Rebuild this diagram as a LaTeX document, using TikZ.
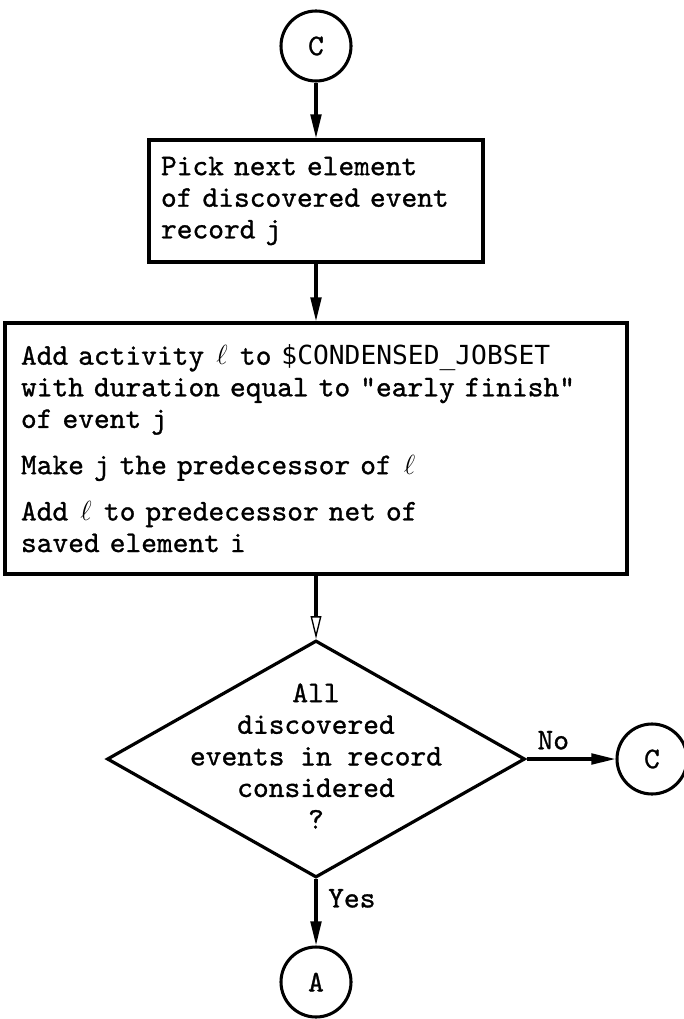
\documentclass[tikz,border=0pt]{standalone}
\usepackage{fontspec}
\newfontfamily\twfont[FakeBold=1]{lmmono10-regular.otf}
\newfontfamily\capfont{DejaVu Sans Mono}
\usetikzlibrary{shapes.geometric,arrows.meta}
\newcommand\ELL{\makebox[0.525em]{$\ell$}}
\newcommand\CAPS[1]{{\capfont\fontsize{19.7}{23.7}\selectfont #1}}
\begin{document}
\begin{tikzpicture}[x=0.75pt,y=-0.75pt,
  every node/.style={font=\twfont\fontsize{22.5}{23.7}\selectfont},
  procbox/.style={draw, line width=2.5pt, rectangle, align=left, inner ysep=0pt},
  conn/.style={draw, circle, line width=2.3pt, minimum size=52.5pt, inner sep=0pt,
    font=\twfont\fontsize{22.5}{23.7}\selectfont},
  decision/.style={draw, diamond, line width=2.4pt, minimum width=313.5pt, minimum height=177.75pt, inner sep=0pt},
  arr/.style={line width=2.3pt, -{Triangle[length=18pt,width=8pt]}},
  openarr/.style={line width=2.3pt, -{Triangle[open,length=17pt,width=8pt,line width=1pt]}},
  lbl/.style={inner sep=0pt}
]
\useasboundingbox (0,0) rectangle (683,1019);
\node[conn] (c1) at (316,46) {C};
\node[procbox, text width=232.5pt, inner xsep=9pt, minimum height=91.5pt] (b1) at (316,201)
  {Pick next element\\of discovered event\\record j};
\node[procbox, text width=442.5pt, inner xsep=12pt, minimum height=188.25pt] (b2) at (316,448.5)
  {Add activity \ELL{} to \CAPS{\$CONDENSED\_JOBSET}\\with duration equal to "early finish"\\of event j\\[11pt]Make j the predecessor of \ELL\\[11pt]Add \ELL{} to predecessor net of\\saved element i};
\node[decision] (d) at (316,759) {};
\node[align=center, inner sep=0pt] (dt) at (316,756)
  {All\\discovered\\events in record\\considered\\?};
\node[conn] (c2) at (652,759) {C};
\node[conn] (a) at (316,982) {A};
\draw[arr] (c1) -- (b1);
\draw[arr] (b1) -- (b2);
\draw[openarr] (b2) -- (d);
\draw[arr] (d.east) -- node[lbl, pos=0.3, above=6pt] {No} (c2);
\draw[arr] (d.south) -- node[lbl, pos=0.29, right=8pt] {Yes} (a);
\end{tikzpicture}
\end{document}
